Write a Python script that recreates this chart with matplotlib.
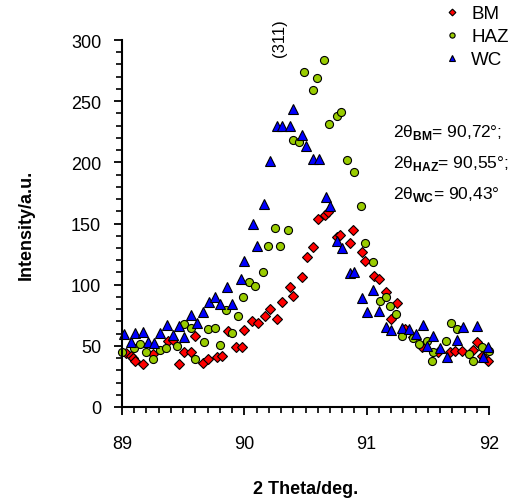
import matplotlib
matplotlib.use("Agg")
import matplotlib.pyplot as plt
from matplotlib.ticker import MultipleLocator

plt.rcParams['font.family'] = ['Liberation Sans', 'DejaVu Sans']
plt.rcParams['mathtext.fontset'] = 'custom'
plt.rcParams['mathtext.rm'] = 'Liberation Sans'
plt.rcParams['mathtext.bf'] = 'Liberation Sans:bold'

# BM series (red diamonds)
bm_x = [89.03, 89.07, 89.09, 89.11, 89.17, 89.25, 89.38, 89.42, 89.47, 89.51, 89.56, 89.60,
        89.66, 89.70, 89.78, 89.82, 89.87, 89.93, 89.98, 90.00, 90.06, 90.11, 90.17, 90.21,
        90.27, 90.31, 90.37, 90.40, 90.47, 90.51, 90.56, 90.60, 90.66, 90.68, 90.76, 90.78,
        90.86, 90.89, 90.96, 90.99, 91.06, 91.10, 91.16, 91.20, 91.25, 91.31, 91.38, 91.45,
        91.58, 91.68, 91.72, 91.78, 91.87, 91.90, 91.94, 91.99]
bm_y = [44, 41.7, 40, 37.6, 35, 43.3, 54, 54.7, 35, 45, 45, 58,
        36, 39, 41, 41.7, 62, 49, 49, 63, 70, 68.6, 74, 80,
        72, 86, 98, 90.7, 106, 123, 131, 153.6, 157, 159, 139, 140.5,
        134, 144.6, 126.6, 119, 107, 104.6, 94, 72, 85, 64, 57, 49,
        45, 45, 45.8, 45.8, 47, 53, 41.7, 37.6]

# HAZ series (yellow-green circles)
haz_x = [89.00, 89.10, 89.15, 89.20, 89.25, 89.31, 89.36, 89.45, 89.51, 89.56, 89.60, 89.67,
         89.70, 89.76, 89.80, 89.85, 89.90, 89.95, 89.99, 90.04, 90.09, 90.15, 90.19, 90.25,
         90.29, 90.36, 90.40, 90.45, 90.49, 90.56, 90.59, 90.65, 90.69, 90.76, 90.79, 90.84,
         90.90, 90.95, 90.99, 91.05, 91.11, 91.16, 91.19, 91.24, 91.29, 91.38, 91.43, 91.49,
         91.53, 91.54, 91.65, 91.69, 91.74, 91.84, 91.87, 91.94, 92.00]
haz_y = [45, 48, 51.5, 45, 39, 46.6, 48, 50, 68, 64.5, 39, 53,
         63.7, 64.5, 50.7, 79, 60.5, 74, 90, 102, 99, 110, 132, 146,
         132, 145, 218, 216.5, 273.7, 259, 269, 283.5, 231, 238, 241, 202,
         192, 164, 134, 118.5, 86.6, 90, 82.5, 76, 58, 56, 51.5, 54,
         37.6, 45, 54, 68.6, 63.7, 43, 37.6, 49, 45.8]

# WC series (blue triangles)
wc_x = [89.02, 89.07, 89.11, 89.17, 89.21, 89.26, 89.31, 89.37, 89.42, 89.47, 89.51, 89.56,
        89.61, 89.66, 89.71, 89.76, 89.80, 89.86, 89.90, 89.97, 90.00, 90.07, 90.10, 90.16,
        90.21, 90.27, 90.31, 90.37, 90.40, 90.47, 90.50, 90.56, 90.61, 90.67, 90.70, 90.76,
        90.80, 90.86, 90.90, 90.96, 91.00, 91.05, 91.10, 91.16, 91.20, 91.29, 91.35, 91.40,
        91.46, 91.49, 91.54, 91.60, 91.66, 91.74, 91.79, 91.90, 91.95, 91.99]
wc_y = [59.6, 53, 60.5, 61, 53, 52, 60.5, 67, 58.8, 66, 57, 75,
        69, 77.6, 85.8, 90, 84, 98, 84, 104.6, 119, 150, 131.5, 166,
        201, 229.6, 229.6, 229.6, 244, 222, 213, 203, 203, 171.6, 164, 136,
        130, 109.5, 110, 89, 77.6, 95.6, 78.4, 65, 62.9, 64.5, 63.7, 59.6,
        67, 49.8, 58, 48, 40.8, 54.7, 65, 66, 40.8, 49]

labels = ["BM", "HAZ", "WC"]
peak_text = ["2θ$_{\\mathbf{BM}}$= 90,72°;", "2θ$_{\\mathbf{HAZ}}$= 90,55°;", "2θ$_{\\mathbf{WC}}$= 90,43°"]

fig = plt.figure(figsize=(5.28, 5.02), dpi=100)
ax = fig.add_axes([122/528, 1-408/502, (489-122)/528, (408-41)/502])

ax.plot(bm_x, bm_y, linestyle='none', marker='D', markersize=5.3, markerfacecolor='#FF0000',
        markeredgecolor='black', markeredgewidth=0.8, label=labels[0], clip_on=False)
ax.plot(haz_x, haz_y, linestyle='none', marker='o', markersize=5.8, markerfacecolor='#99CC00',
        markeredgecolor='black', markeredgewidth=0.8, label=labels[1], clip_on=False)
ax.plot(wc_x, wc_y, linestyle='none', marker='^', markersize=7, markerfacecolor='#0000FF',
        markeredgecolor='black', markeredgewidth=0.8, label=labels[2], clip_on=False)

ax.set_xlim(89, 92)
ax.set_ylim(0, 300)
ax.xaxis.set_major_locator(MultipleLocator(1))
ax.xaxis.set_minor_locator(MultipleLocator(0.1))
ax.yaxis.set_major_locator(MultipleLocator(50))
ax.yaxis.set_minor_locator(MultipleLocator(10))
for s in ['top', 'right']:
    ax.spines[s].set_visible(False)
for s in ['left', 'bottom']:
    ax.spines[s].set_linewidth(1.5)
ax.tick_params(axis='both', which='major', length=6, width=1.3, labelsize=13, direction='out')
ax.tick_params(axis='both', which='minor', length=4, width=1.2, direction='out')
ax.tick_params(axis='x', which='major', pad=14)
ax.tick_params(axis='y', which='major', pad=9)

ax.set_xlabel("2 Theta/deg.", fontsize=13, fontweight='bold', labelpad=20)
ax.set_ylabel("Intensity/a.u.", fontsize=13, fontweight='bold', labelpad=26)

ax.text(90.29, 302, "(311)", rotation=90, fontsize=12, ha='center', va='center', clip_on=False)

leg = fig.legend(loc='upper left', bbox_to_anchor=(443/528, 1-6/502), frameon=False,
                 fontsize=13.5, markerscale=0.65, handlelength=1.0, handletextpad=0.5,
                 labelspacing=0.32, borderaxespad=0, borderpad=0)

for i, t in enumerate(peak_text):
    fig.text(393/528, 1-(133 + 31*i)/502, t, fontsize=12.5, ha='left', va='center')

fig.savefig("out.png", dpi=100)
